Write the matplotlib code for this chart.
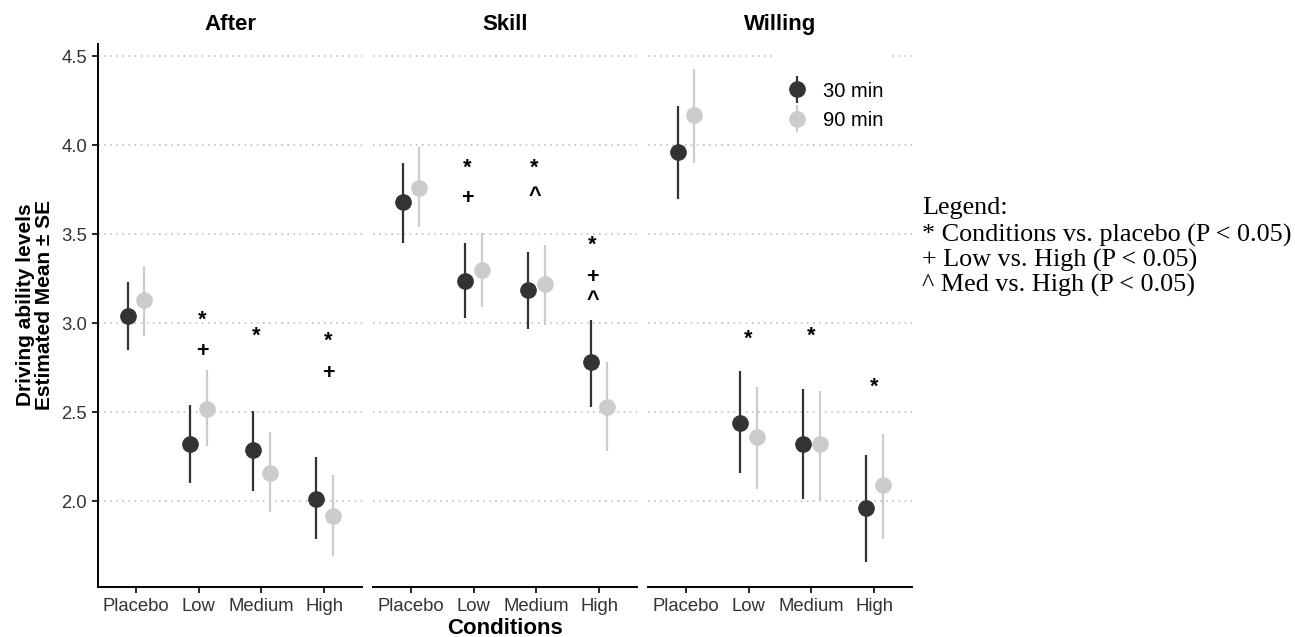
import matplotlib.pyplot as plt
import numpy as np
from matplotlib.container import ErrorbarContainer
from matplotlib.legend_handler import HandlerErrorbar

plt.rcParams['font.family'] = ['Liberation Sans', 'DejaVu Sans']

conditions = ['Placebo', 'Low', 'Medium', 'High']
panels = ['After', 'Skill', 'Willing']
times = ['30 min', '90 min']

# estimated means
mean_30 = {'After': [3.04, 2.32, 2.29, 2.01],
           'Skill': [3.68, 3.24, 3.19, 2.78],
           'Willing': [3.96, 2.44, 2.32, 1.96]}
mean_90 = {'After': [3.13, 2.52, 2.16, 1.92],
           'Skill': [3.76, 3.30, 3.22, 2.53],
           'Willing': [4.17, 2.36, 2.32, 2.09]}

# mean - SE and mean + SE
lo_30 = {'After': [2.85, 2.10, 2.06, 1.79],
         'Skill': [3.45, 3.03, 2.97, 2.53],
         'Willing': [3.70, 2.16, 2.01, 1.66]}
hi_30 = {'After': [3.23, 2.54, 2.51, 2.25],
         'Skill': [3.90, 3.45, 3.40, 3.02],
         'Willing': [4.22, 2.73, 2.63, 2.26]}
lo_90 = {'After': [2.93, 2.31, 1.94, 1.69],
         'Skill': [3.54, 3.09, 2.99, 2.28],
         'Willing': [3.90, 2.07, 2.00, 1.79]}
hi_90 = {'After': [3.32, 2.74, 2.39, 2.15],
         'Skill': [3.99, 3.51, 3.44, 2.78],
         'Willing': [4.43, 2.64, 2.62, 2.38]}

# significance marks: (symbol, x in category units, y)
marks = {'After': [('*', 2.06, 3.02), ('+', 2.06, 2.84), ('*', 2.92, 2.93),
                   ('*', 4.06, 2.90), ('+', 4.06, 2.72)],
         'Skill': [('*', 1.90, 3.87), ('+', 1.90, 3.70), ('*', 2.97, 3.87),
                   ('^', 2.97, 3.71), ('*', 3.89, 3.44), ('+', 3.89, 3.26),
                   ('^', 3.89, 3.13)],
         'Willing': [('*', 2.0, 2.91), ('*', 3.0, 2.93), ('*', 4.0, 2.64)]}

yticks = [2.0, 2.5, 3.0, 3.5, 4.0, 4.5]

legend_lines = ['Legend:',
                '* Conditions vs. placebo (P < 0.05)',
                '+ Low vs. High (P < 0.05)',
                '^ Med vs. High (P < 0.05)']

dark = '#333333'
light = '#cccccc'

fig = plt.figure(figsize=(12.95, 6.37), dpi=100)
lefts = [0.0757, 0.288, 0.5004]
width = 0.2039
x = np.arange(1, len(conditions) + 1)
dodge = 0.13

for i, name in enumerate(panels):
    ax = fig.add_axes([lefts[i], 0.079, width, 0.852])
    m30 = np.array(mean_30[name]); m90 = np.array(mean_90[name])
    e30 = [m30 - np.array(lo_30[name]), np.array(hi_30[name]) - m30]
    e90 = [m90 - np.array(lo_90[name]), np.array(hi_90[name]) - m90]
    h30 = ax.errorbar(x - dodge, m30, yerr=e30, fmt='o', color=dark, ms=11,
                      elinewidth=1.6, capsize=0, zorder=3)
    h90 = ax.errorbar(x + dodge, m90, yerr=e90, fmt='o', color=light, ms=11,
                      elinewidth=1.6, capsize=0, zorder=3)
    for sym, mx, my in marks[name]:
        ax.text(mx, my, sym, ha='center', va='center', fontsize=15.5,
                fontweight='bold', color='black', zorder=4)

    ax.set_xlim(0.4, 4.6)
    ax.set_ylim(1.52, 4.57)
    ax.set_xticks(x)
    ax.set_xticklabels(conditions, fontsize=13.3, color='#333333')
    ax.set_yticks(yticks)
    ax.set_yticklabels(['%.1f' % v for v in yticks], fontsize=13.3, color='#333333')
    ax.yaxis.grid(True, linestyle=(0, (1, 3)), color='#b5b5b5', linewidth=1.1)
    ax.set_axisbelow(True)
    for s in ['top', 'right']:
        ax.spines[s].set_visible(False)
    ax.spines['bottom'].set_linewidth(1.4)
    ax.spines['left'].set_linewidth(1.4)
    ax.tick_params(length=4, width=1.2, pad=4)
    if i > 0:
        ax.spines['left'].set_visible(False)
        ax.tick_params(axis='y', left=False, labelleft=False)
    fig.text(lefts[i] + width / 2, 0.962, name, ha='center', va='center',
             fontsize=16, fontweight='bold')

    if name == 'Willing':
        # blank title gives the white key box its extra room on top
        leg = ax.legend([h30, h90], times, loc='upper left', title=' ',
                        title_fontsize=10, bbox_to_anchor=(0.468, 0.99),
                        frameon=True, facecolor='white', edgecolor='none',
                        framealpha=1, fontsize=14.5, handlelength=1.7,
                        handletextpad=0.45, labelspacing=0.5,
                        borderpad=0.4, borderaxespad=0.0,
                        handler_map={ErrorbarContainer: HandlerErrorbar(yerr_size=0.65)})

fig.text(0.027, 0.521, 'Driving ability levels\nEstimated Mean \u00b1 SE',
         rotation=90, ha='center', va='center', fontsize=15,
         fontweight='bold', linespacing=1.0)
fig.text(lefts[1] + width / 2, 0.014, 'Conditions', ha='center', va='center',
         fontsize=16, fontweight='bold')

legend_y = [208, 235, 260, 285]
for txt, py in zip(legend_lines, legend_y):
    fig.text(922 / 1295, 1 - py / 637, txt, ha='left', va='center',
             fontsize=18.8, family='Liberation Serif')

fig.savefig('out.png', dpi=100)
